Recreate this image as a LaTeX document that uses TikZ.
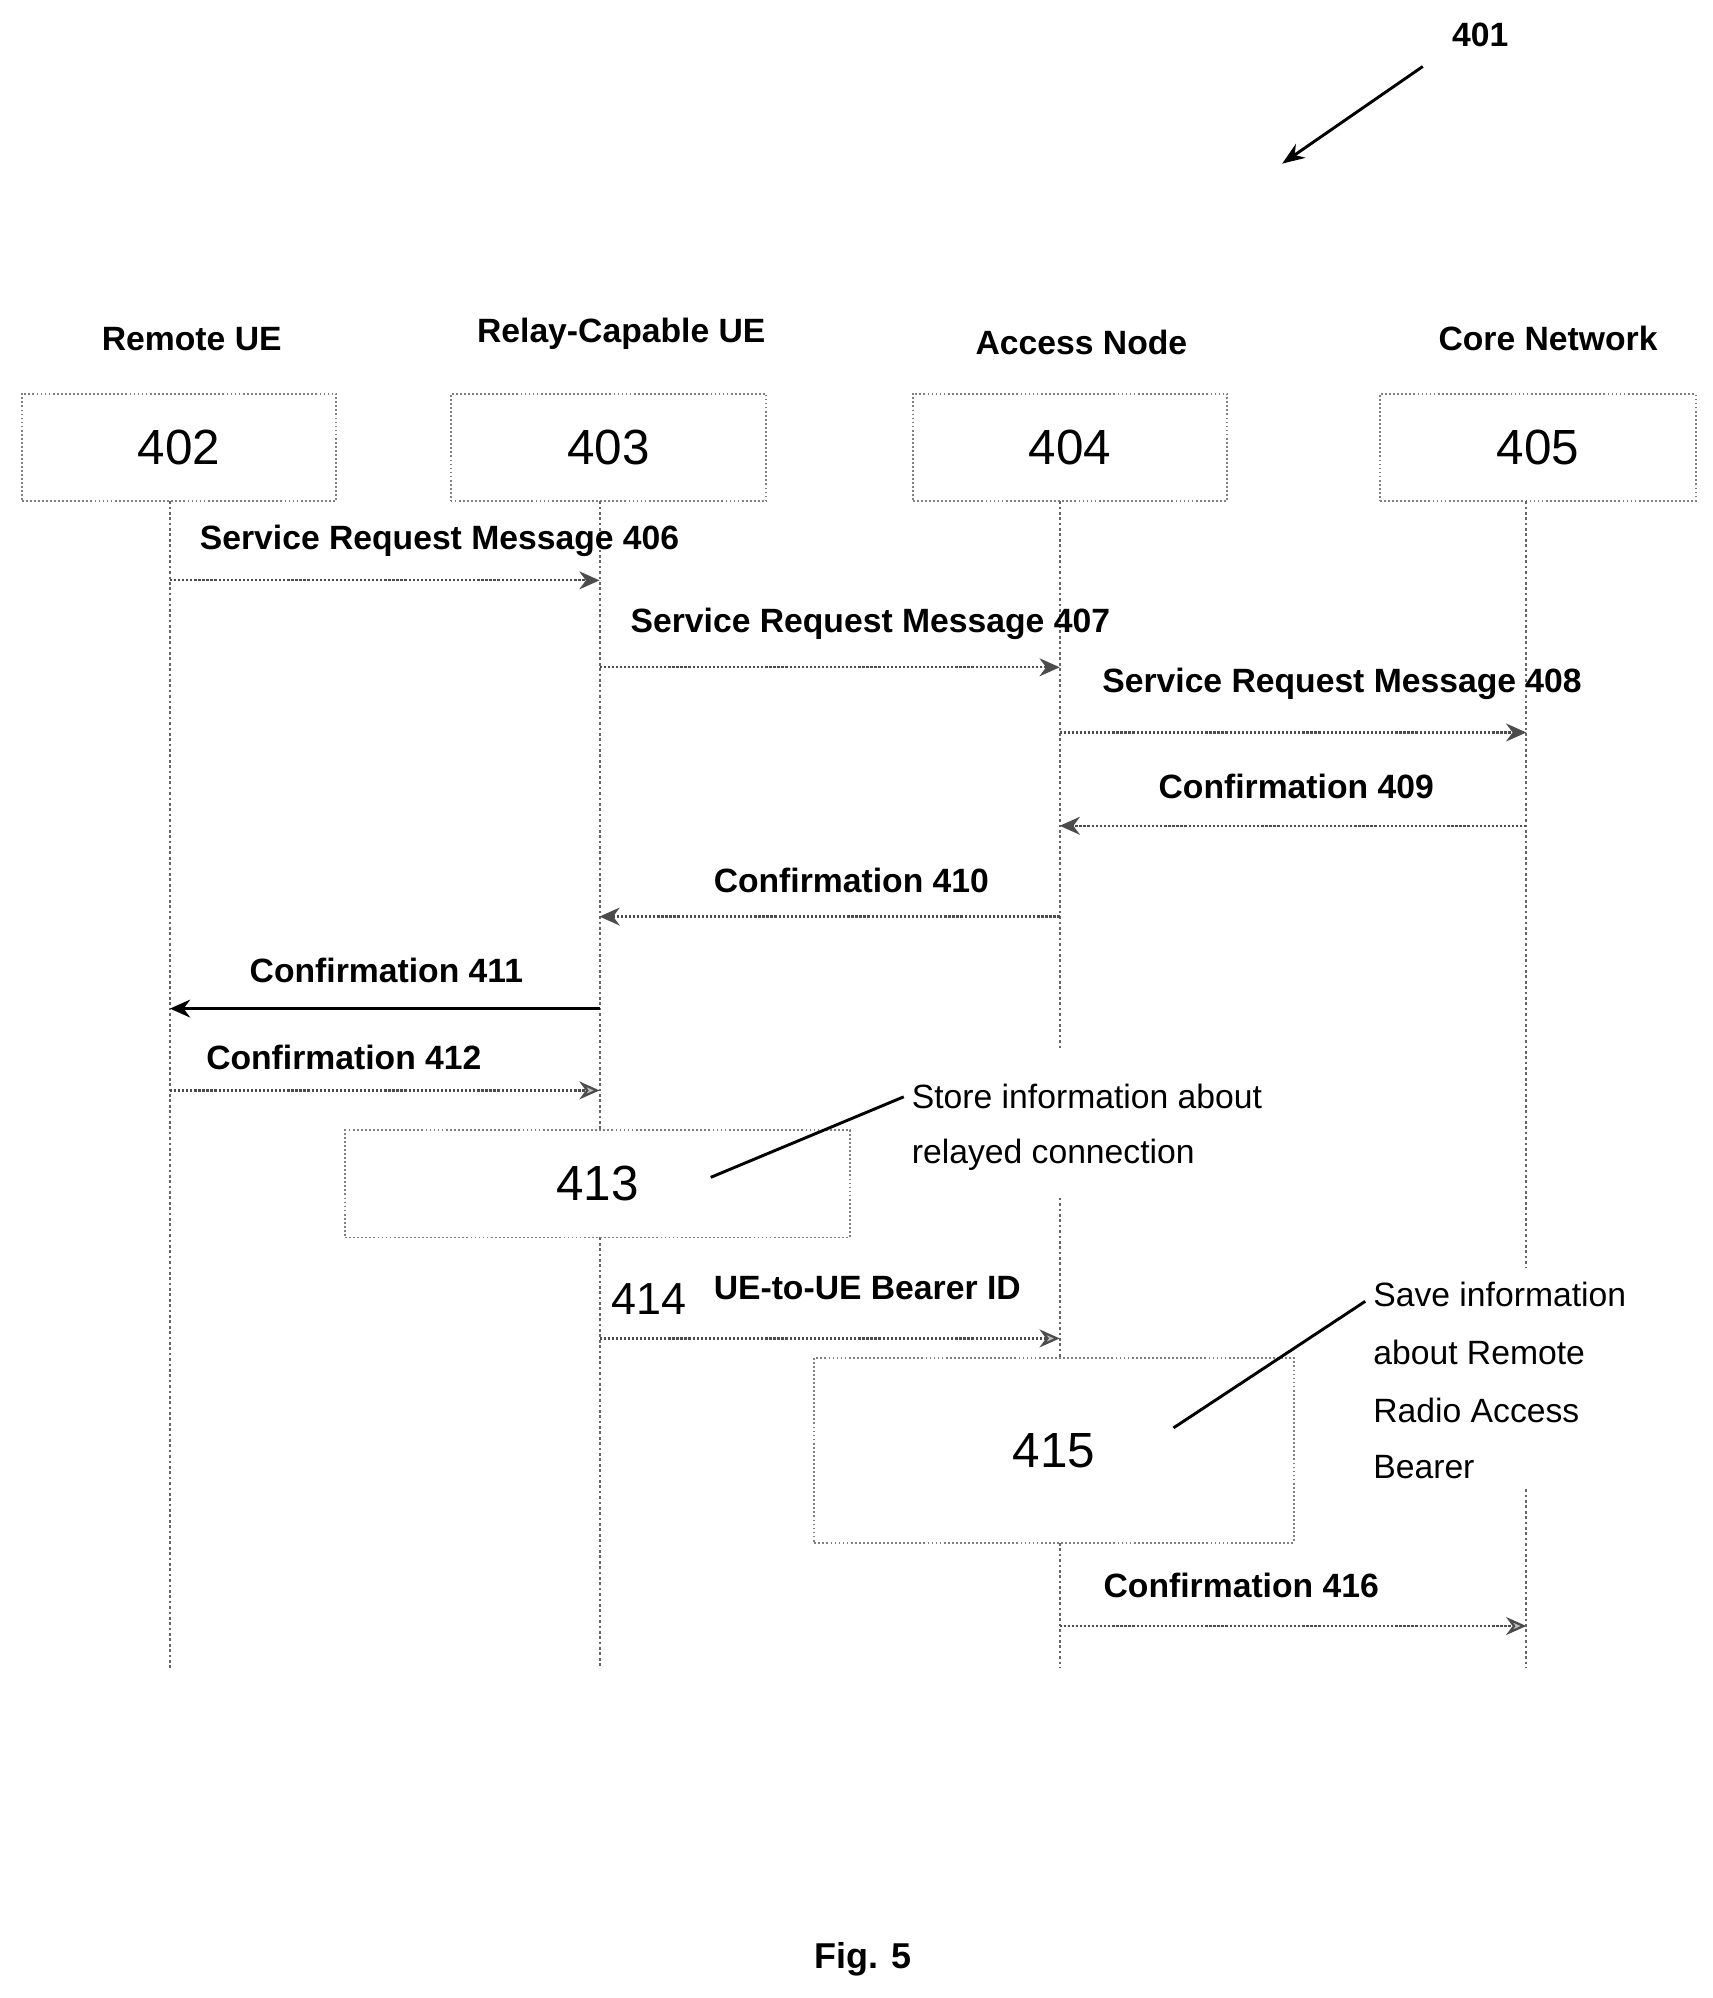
\documentclass[tikz,border=0pt]{standalone}
\usepackage{fontspec}
\setmainfont{Liberation Sans}
\usetikzlibrary{arrows.meta}
\begin{document}
\begin{tikzpicture}[x=0.02cm,y=-0.02cm,
 lbl/.style={font=\fontsize{15}{18}\selectfont\bfseries,anchor=west,inner sep=0},
 note/.style={font=\fontsize{15}{18}\selectfont,anchor=west,inner sep=0,align=left},
 box/.style={draw=gray,densely dotted,line width=0.8pt,inner sep=0,font=\fontsize{22}{26}\selectfont},
 life/.style={draw=gray!80!black,dash pattern=on 1.2pt off 1.2pt,line width=0.9pt},
 msg/.style={draw=gray!60!black,dash pattern=on 1pt off 0.8pt,line width=1pt,-{Stealth[length=9pt,width=8pt]}},
 hmsg/.style={msg,-{Stealth[length=9pt,width=8pt,fill=gray!50]}}]
\useasboundingbox (0,0) rectangle (1340,1563);
\node[font=\fontsize{15}{18}\selectfont\bfseries] (t401) at (1158,27) {401};
\coordinate (a1) at (1113,52); \coordinate (a2) at (1003,128);
\draw[line width=1.3pt,-{Stealth[length=10pt]}] (a1) -- (a2);
\foreach \x/\n/\t/\ty in {133/402/Remote UE/265,469/403/Relay-Capable UE/261,829/404/Access Node/268,1194/405/Core Network/265}{
 \node[font=\fontsize{15}{18}\selectfont\bfseries] at (\x+17,\ty) {\t};
}
\node[box,minimum width=4.92cm,minimum height=1.68cm] (b402) at (140,350) {402};
\node[box,minimum width=4.94cm,minimum height=1.68cm] (b403) at (476,350) {403};
\node[box,minimum width=4.92cm,minimum height=1.68cm] (b404) at (837,350) {404};
\node[box,minimum width=4.94cm,minimum height=1.68cm] (b405) at (1203,350) {405};
\coordinate (l1a) at (133,392); \coordinate (l1b) at (133,1305);
\coordinate (l2a) at (469,392); \coordinate (l2b) at (469,884);
\coordinate (l2c) at (469,968); \coordinate (l2d) at (469,1305);
\coordinate (l3a) at (829,392); \coordinate (l3b) at (829,820);
\coordinate (l3c) at (829,937); \coordinate (l3d) at (829,1062);
\coordinate (l3e) at (829,1207); \coordinate (l3f) at (829,1305);
\coordinate (l4a) at (1194,392); \coordinate (l4b) at (1194,992);
\coordinate (l4c) at (1194,1165); \coordinate (l4d) at (1194,1305);
\draw[life] (l1a)--(l1b); \draw[life] (l2a)--(l2b); \draw[life] (l2c)--(l2d);
\draw[life] (l3a)--(l3b); \draw[life] (l3c)--(l3d); \draw[life] (l3e)--(l3f);
\draw[life] (l4a)--(l4b); \draw[life] (l4c)--(l4d);
\draw[msg] (133,454) -- (469,454);
\node[lbl] at (156,423) {Service Request Message 406};
\draw[msg] (469,522) -- (829,522);
\node[lbl] at (493,488) {Service Request Message 407};
\draw[msg] (829,573) -- (1194,573);
\node[lbl] at (862,535) {Service Request Message 408};
\draw[msg] (1194,646) -- (829,646);
\node[lbl] at (906,615) {Confirmation 409};
\draw[msg] (829,717) -- (469,717);
\node[lbl] at (558,689) {Confirmation 410};
\draw[msg,draw=black,solid] (469,789) -- (133,789);
\node[lbl] at (195,759) {Confirmation 411};
\draw[hmsg] (133,853) -- (469,853);
\node[lbl] at (161,827) {Confirmation 412};
\node[box,minimum width=7.9cm,minimum height=1.68cm] (b413) at (467.5,926) {413};
\draw[line width=1.3pt] (556,921) -- (707,858);
\node[note] at (713,858) {Store information about};
\node[note] at (713,903) {relayed connection};
\draw[hmsg] (469,1047) -- (829,1047);
\node[font=\fontsize{20}{24}\selectfont,anchor=west,inner sep=0] at (478,1016) {414};
\node[lbl] at (558,1008) {UE-to-UE Bearer ID};
\node[box,minimum width=7.5cm,minimum height=2.9cm,fill=white] (b415) at (824.5,1134.5) {415};
\draw[line width=1.3pt] (918,1117) -- (1068,1018);
\node[note] at (1074,1013) {Save information};
\node[note] at (1074,1058) {about Remote};
\node[note] at (1074,1103) {Radio Access};
\node[note] at (1074,1148) {Bearer};
\draw[hmsg] (829,1272) -- (1194,1272);
\node[lbl] at (863,1240) {Confirmation 416};
\node[font=\fontsize{16}{19}\selectfont\bfseries] at (675,1533) {Fig. 5};
\end{tikzpicture}
\end{document}
